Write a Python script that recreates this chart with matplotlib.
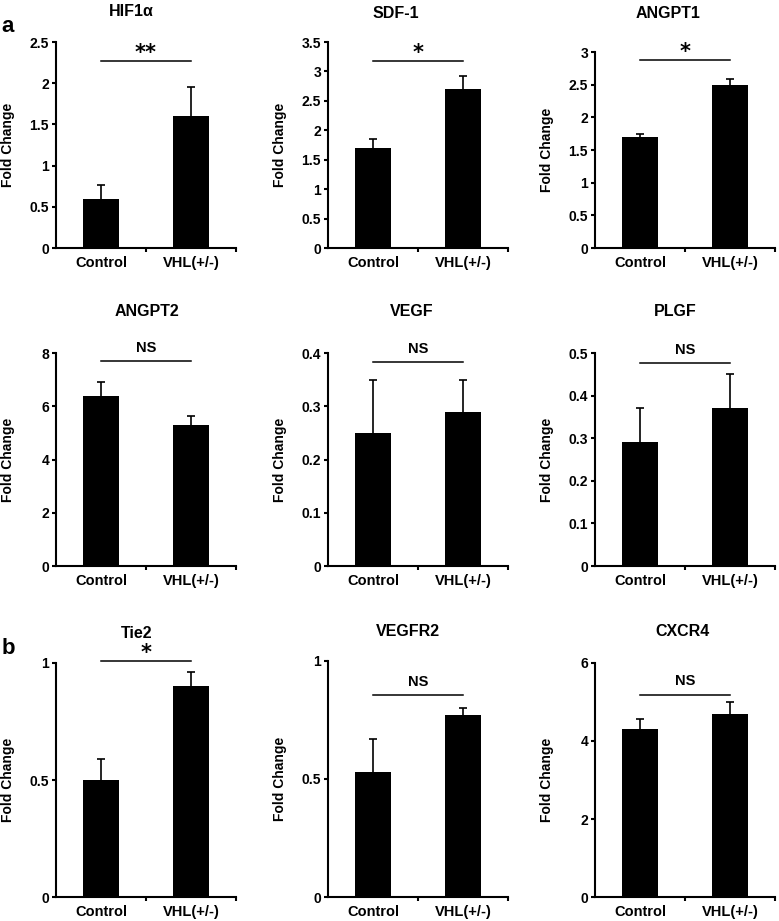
"""Fold change bar panels: Control vs VHL(+/-), with significance marks."""
import numpy as np
import matplotlib
matplotlib.use("Agg")
import matplotlib.pyplot as plt
from matplotlib.ticker import FixedLocator, FuncFormatter

W, H = 779, 921  # output size in pixels

groups = ["Control", "VHL(+/-)"]
genes = ["HIF1α", "SDF-1", "ANGPT1", "ANGPT2", "VEGF", "PLGF",
         "Tie2", "VEGFR2", "CXCR4"]
control_mean = [0.60, 1.70, 1.70, 6.40, 0.25, 0.29, 0.50, 0.53, 4.30]
control_err = [0.16, 0.15, 0.05, 0.50, 0.10, 0.08, 0.09, 0.14, 0.27]
vhl_mean = [1.60, 2.70, 2.50, 5.30, 0.29, 0.37, 0.90, 0.77, 4.70]
vhl_err = [0.35, 0.23, 0.09, 0.35, 0.06, 0.08, 0.06, 0.03, 0.30]
significance = ["**", "*", "*", "NS", "NS", "NS", "*", "NS", "NS"]
y_top = [2.5, 3.5, 3, 8, 0.4, 0.5, 1, 1, 6]
y_step = [0.5, 0.5, 0.5, 2, 0.1, 0.1, 0.5, 0.5, 2]
sig_line_y = [2.27, 3.175, 2.87, 7.69, 0.383, 0.477, 1.007, 0.855, 5.19]

# layout, in pixels of the final image
col_left = [56, 328, 595]
ax_w = 180
row_bottom = [248, 566, 897]
ax_top = [42, 42, 52, 353, 353, 353, 663, 661, 663]
title_xy = [(131, 12), (396, 13), (668, 13), (147, 312), (412, 312),
            (675, 312), (137, 633), (408, 632), (682, 631)]

FONT = "Liberation Sans"
plt.rcParams["font.family"] = [FONT, "DejaVu Sans"]
plt.rcParams["font.weight"] = "bold"

fig = plt.figure(figsize=(W / 100, H / 100), dpi=100)


def px_box(left, top, bottom):
    return [left / W, 1 - bottom / H, ax_w / W, (bottom - top) / H]


for i, gene in enumerate(genes):
    row, col = divmod(i, 3)
    ax = fig.add_axes(px_box(col_left[col], ax_top[i], row_bottom[row]))
    x = np.arange(len(groups))
    means = [control_mean[i], vhl_mean[i]]
    errs = [control_err[i], vhl_err[i]]
    ax.bar(x, means, width=0.4, color="black", edgecolor="none")
    _, caps, _ = ax.errorbar(x, means, yerr=[[0, 0], errs], fmt="none",
                             ecolor="black", elinewidth=1.2, capsize=3,
                             capthick=1.2)
    caps[0].set_visible(False)  # no cap at the bar top, only above

    ax.set_xlim(-0.5, 1.5)
    ax.set_ylim(0, y_top[i])
    ticks = np.arange(0, y_top[i] + y_step[i] / 2, y_step[i])
    ax.yaxis.set_major_locator(FixedLocator(ticks))
    ax.yaxis.set_major_formatter(FuncFormatter(lambda v, _: f"{round(v, 3):g}"))
    ax.set_xticks(x)
    ax.set_xticklabels(groups, fontsize=10.5, fontweight="bold")
    ax.xaxis.set_minor_locator(FixedLocator([0.5, 1.5]))
    ax.tick_params(axis="x", which="major", length=0, pad=6)
    ax.tick_params(axis="x", which="minor", length=3, width=1.5, direction="out")
    ax.tick_params(axis="y", length=3, width=1.5, labelsize=10, pad=2)
    for lab in ax.get_yticklabels():
        lab.set_fontweight("bold")

    for side in ("top", "right"):
        ax.spines[side].set_visible(False)
    for side in ("left", "bottom"):
        ax.spines[side].set_linewidth(1.5)

    ax.text(-48 / ax_w, 0.5, "Fold Change", transform=ax.transAxes,
            rotation=90, ha="center", va="center", fontsize=10,
            fontweight="bold")

    # significance bar between the two groups
    ax.plot([0, 1], [sig_line_y[i]] * 2, color="black", lw=1.1,
            clip_on=False)
    mark = significance[i]
    if mark == "NS":
        ax.annotate(mark, (0.5, sig_line_y[i]), xytext=(0, 9.5),
                    textcoords="offset points", ha="center", va="center",
                    fontsize=10.5, fontweight="bold", annotation_clip=False)
    else:
        ax.annotate(mark, (0.5, sig_line_y[i]), xytext=(0, 6),
                    textcoords="offset points", ha="center", va="center",
                    fontsize=15, family="DejaVu Sans", fontweight="bold",
                    annotation_clip=False)

    tx, ty = title_xy[i]
    fig.text(tx / W, 1 - ty / H, gene, ha="center", va="center",
             fontsize=11.5, fontweight="bold")

fig.text(8 / W, 1 - 26 / H, "a", ha="center", va="center", fontsize=16,
         fontweight="bold")
fig.text(8 / W, 1 - 649 / H, "b", ha="center", va="center", fontsize=16,
         fontweight="bold")

fig.savefig("out.png", dpi=100)
